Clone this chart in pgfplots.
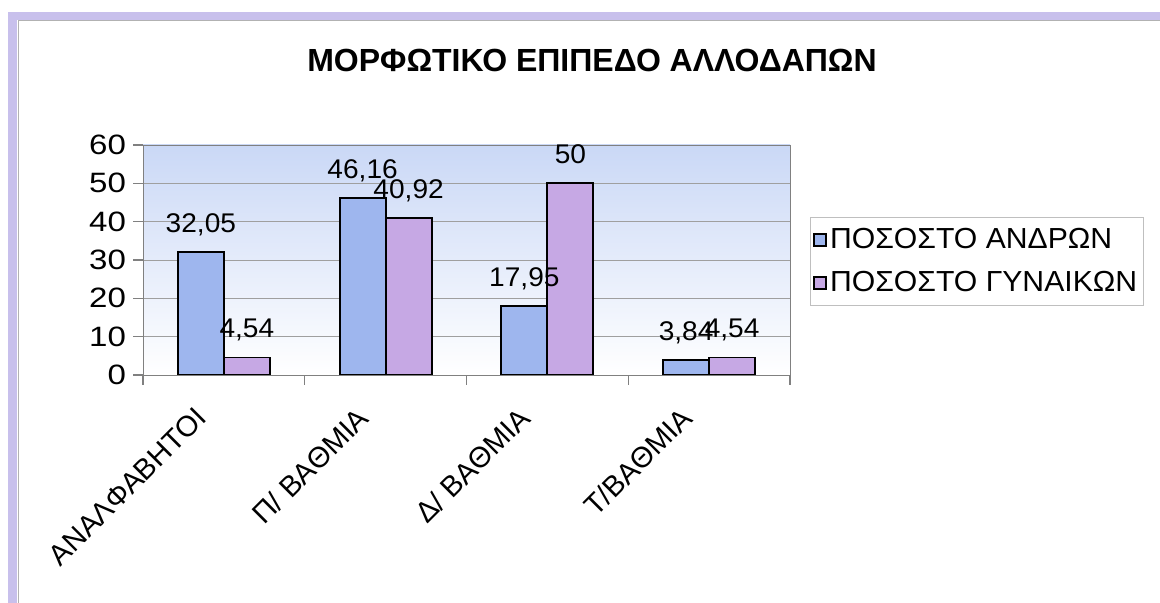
\documentclass[border=0pt]{standalone}
\usepackage{fontspec}
\setmainfont{Liberation Sans}
\newfontfamily\widesans[FakeStretch=1.18]{Liberation Sans}
\newfontfamily\legsans[FakeStretch=1.04]{Liberation Sans}
\usepackage{pgfplots}
\usepackage{pgfplotstable}
\pgfplotsset{compat=1.18}

\definecolor{menblue}{RGB}{158,182,238}
\definecolor{womenpurple}{RGB}{198,168,228}
\definecolor{bgtop}{RGB}{202,216,246}
\definecolor{framecol}{RGB}{200,192,236}

% percentages by education level
\pgfplotstableread{
x men women
0 32.05 4.54
1 46.16 40.92
2 17.95 50
3 3.84 4.54
}\educ

\begin{document}
\begin{tikzpicture}
\useasboundingbox (0,0) rectangle (580pt,301.5pt);
\fill[white] (0,0) rectangle (580pt,301.5pt);
% outer frame (top and left edges)
\fill[framecol] (4pt,0) rectangle (8.5pt,295.5pt);
\fill[framecol] (4pt,291.5pt) rectangle (580pt,295.5pt);
\draw[gray!60, line width=0.5pt] (9pt,0) -- (9pt,291pt) -- (580pt,291pt);

\node[font=\bfseries\fontsize{16}{19}\selectfont, anchor=base] at (296pt,265.5pt)
  {ΜΟΡΦΩΤΙΚΟ ΕΠΙΠΕΔΟ ΑΛΛΟΔΑΠΩΝ};

\begin{axis}[
    at={(71.5pt,114pt)}, anchor=south west,
    width=323.5pt, height=115pt, scale only axis,
    xmin=-0.5, xmax=3.5, ymin=0, ymax=60,
    ybar=0pt, bar width=23pt,
    ytick={0,10,...,60},
    xtick={0,1,2,3},
    xticklabels={ΑΝΑΛΦΑΒΗΤΟΙ,Π/ ΒΑΘΜΙΑ,Δ/ ΒΑΘΜΙΑ,Τ/ΒΑΘΜΙΑ},
    minor xtick={-0.5,0.5,1.5,2.5,3.5},
    major x tick style={draw=none},
    xtick pos=bottom, ytick pos=left,
    tick align=outside, major tick length=5pt, minor tick length=5pt,
    tick style={gray, line width=0.6pt},
    axis line style={gray},
    ymajorgrids, grid style={gray!75},
    yticklabel style={font=\widesans\fontsize{14}{16}\selectfont},
    xticklabel style={font=\fontsize{14.5}{17}\selectfont, xshift=-15pt, yshift=-10pt,
      rotate=45, anchor=north east, inner sep=0pt},
    /pgf/number format/assume math mode=true,
    /pgf/number format/use comma,
    nodes near coords,
    nodes near coords style={font=\legsans\fontsize{13.5}{15}\selectfont, anchor=base, yshift=10pt},
    axis background/.style={top color=bgtop, bottom color=white},
    legend style={at={(1.031,0.687)}, anchor=north west, draw=gray!50,
      font=\legsans\fontsize{14.5}{17}\selectfont, row sep=7pt,
      inner xsep=1.5pt, inner ysep=4pt,
      nodes={inner sep=1.5pt}},
    legend cell align=left,
    legend image code/.code={\draw[#1, draw=black, line width=0.8pt] (0pt,-3pt) rectangle (6pt,3pt);},
  ]
  \addplot[fill=menblue, draw=black, line width=0.9pt] table[x=x, y=men] {\educ};
  \addplot[fill=womenpurple, draw=black, line width=0.9pt] table[x=x, y=women] {\educ};
  \legend{ΠΟΣΟΣΤΟ ΑΝΔΡΩΝ, ΠΟΣΟΣΤΟ ΓΥΝΑΙΚΩΝ}
\end{axis}
\end{tikzpicture}
\end{document}
